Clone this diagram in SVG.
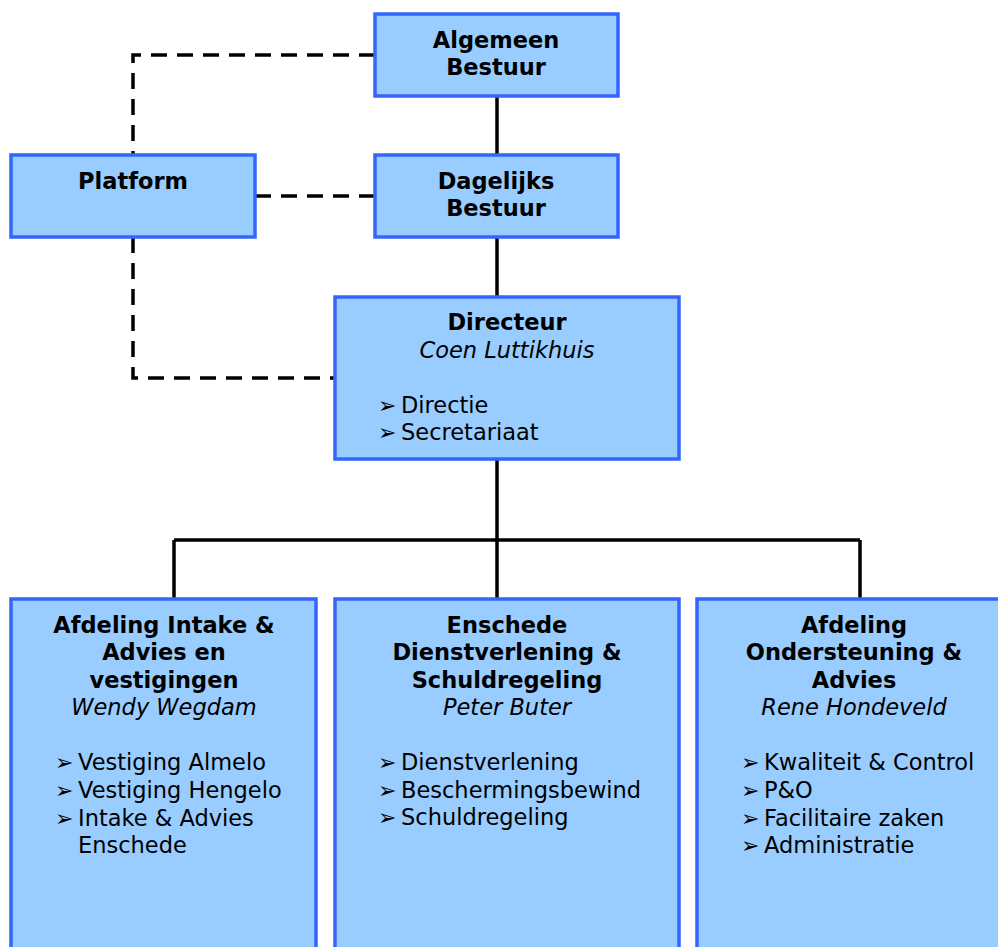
<svg xmlns="http://www.w3.org/2000/svg" width="998" height="947" viewBox="0 0 998 947">
<style>
.box{fill:#99CCFF;stroke:#3366FF;stroke-width:3.5}
.t{font-family:"DejaVu Sans",Verdana,sans-serif;font-size:22.5px;fill:#000}
.b{font-weight:bold}
.i{font-style:italic}
.c{text-anchor:middle}
.a{font-family:"DejaVu Sans",sans-serif;font-size:22px;fill:#000}
.ln{fill:none;stroke:#000;stroke-width:3.5}
.d{stroke-dasharray:16,10}
</style>
<rect width="998" height="947" fill="#fff"/>
<g id="connectors">
<path class="ln" d="M497 96V155M497 237V297M497 459V540M174 540H860M174 540V599M497 540V599M860 540V599"/>
<path class="ln d" d="M375 55H133V155"/>
<path class="ln d" d="M255 196H375"/>
<path class="ln d" d="M133 237V378H335"/>
</g>
<g id="algemeen-bestuur">
<rect class="box" x="375" y="14" width="243" height="82"/>
<text class="t b c" x="496" y="48">Algemeen</text>
<text class="t b c" x="496" y="75">Bestuur</text>
</g>
<g id="platform">
<rect class="box" x="11" y="155" width="244" height="82"/>
<text class="t b c" x="133" y="189">Platform</text>
</g>
<g id="dagelijks-bestuur">
<rect class="box" x="375" y="155" width="243" height="82"/>
<text class="t b c" x="496" y="189">Dagelijks</text>
<text class="t b c" x="496" y="216">Bestuur</text>
</g>
<g id="directeur">
<rect class="box" x="335" y="297" width="344" height="162"/>
<text class="t b c" x="507" y="330">Directeur</text>
<text class="t i c" x="507" y="358">Coen Luttikhuis</text>
<text class="a" x="378" y="413">➢</text><text class="t" x="401" y="413">Directie</text>
<text class="a" x="378" y="440">➢</text><text class="t" x="401" y="440">Secretariaat</text>
</g>
<g id="intake-advies">
<rect class="box" x="11" y="599" width="305" height="360"/>
<text class="t b c" x="164" y="633">Afdeling Intake &amp;</text>
<text class="t b c" x="164" y="660">Advies en</text>
<text class="t b c" x="164" y="688">vestigingen</text>
<text class="t i c" x="164" y="715">Wendy Wegdam</text>
<text class="a" x="55" y="770">➢</text><text class="t" x="78" y="770">Vestiging Almelo</text>
<text class="a" x="55" y="798">➢</text><text class="t" x="78" y="798">Vestiging Hengelo</text>
<text class="a" x="55" y="826">➢</text><text class="t" x="78" y="826">Intake &amp; Advies</text>
<text class="t" x="78" y="853">Enschede</text>
</g>
<g id="dienstverlening">
<rect class="box" x="335" y="599" width="344" height="360"/>
<text class="t b c" x="507" y="633">Enschede</text>
<text class="t b c" x="507" y="660">Dienstverlening &amp;</text>
<text class="t b c" x="507" y="688">Schuldregeling</text>
<text class="t i c" x="507" y="715">Peter Buter</text>
<text class="a" x="378" y="770">➢</text><text class="t" x="401" y="770">Dienstverlening</text>
<text class="a" x="378" y="798">➢</text><text class="t" x="401" y="798">Beschermingsbewind</text>
<text class="a" x="378" y="825">➢</text><text class="t" x="401" y="825">Schuldregeling</text>
</g>
<g id="ondersteuning">
<rect class="box" x="697" y="599" width="320" height="360"/>
<text class="t b c" x="854" y="633">Afdeling</text>
<text class="t b c" x="854" y="660">Ondersteuning &amp;</text>
<text class="t b c" x="854" y="688">Advies</text>
<text class="t i c" x="854" y="715">Rene Hondeveld</text>
<text class="a" x="741" y="770">➢</text><text class="t" x="764" y="770">Kwaliteit &amp; Control</text>
<text class="a" x="741" y="798">➢</text><text class="t" x="764" y="798">P&amp;O</text>
<text class="a" x="741" y="826">➢</text><text class="t" x="764" y="826">Facilitaire zaken</text>
<text class="a" x="741" y="853">➢</text><text class="t" x="764" y="853">Administratie</text>
</g>
</svg>
